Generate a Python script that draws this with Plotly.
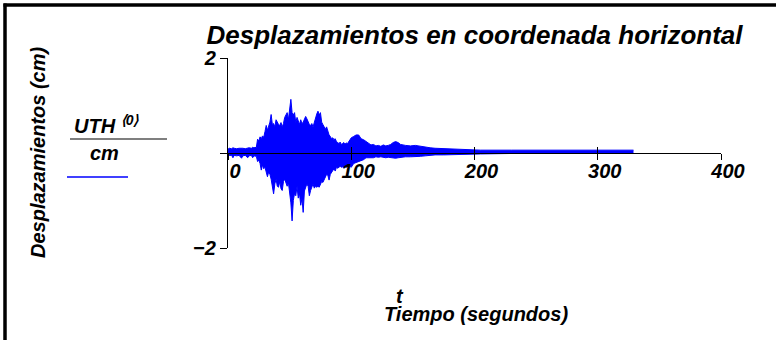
import plotly.graph_objects as go

# ---- data (envelope of the displacement record) ----
t_env = [0, 1, 3, 4, 5, 7, 9, 11, 12, 14, 16, 17, 19, 20, 21, 23,
         24, 25, 26, 27, 28, 29, 30, 31, 32, 33, 34, 35, 36, 37, 38, 39,
         40, 41, 42, 43, 44, 45, 46, 47, 48, 49, 50, 51, 52, 53, 54, 55,
         56, 57, 58, 59, 60, 61, 62, 63, 64, 65, 66, 67, 68, 69, 70, 71,
         72, 73, 74, 75, 76, 77, 78, 79, 80, 81, 82, 83, 84, 85, 86, 87,
         88, 89, 90, 91, 92, 93, 94, 95, 96, 97, 98, 99, 100,
         102, 104, 106, 108, 110, 112, 114, 116, 118, 120, 122, 124, 126,
         128, 130, 132, 134, 136, 138, 140, 144, 148, 152, 156, 160, 164,
         168, 175, 185, 195, 205, 230, 260, 300, 329]
upper = [0.08, 0.10, 0.09, 0.11, 0.10, 0.09, 0.10, 0.11, 0.10, 0.09, 0.10, 0.11, 0.10, 0.12, 0.11, 0.12,
         0.29, 0.25, 0.34, 0.30, 0.36, 0.33, 0.45, 0.58, 0.48, 0.55, 0.65, 0.81, 0.60, 0.62, 0.55, 0.70,
         0.64, 0.60, 0.58, 0.64, 0.55, 0.62, 0.75, 0.80, 0.85, 0.70, 0.95, 1.13, 0.85, 0.80, 0.85, 0.64,
         0.75, 0.68, 0.60, 0.70, 0.62, 0.65, 0.70, 0.77, 0.72, 0.66, 0.60, 0.58, 0.62, 0.55, 0.65, 0.75,
         0.82, 0.88, 0.80, 0.85, 0.65, 0.60, 0.55, 0.50, 0.55, 0.45, 0.38, 0.35, 0.30, 0.32, 0.28, 0.30,
         0.24, 0.22, 0.20, 0.23, 0.18, 0.20, 0.22, 0.19, 0.21, 0.20, 0.25, 0.30, 0.32,
         0.35, 0.38, 0.38, 0.30, 0.28, 0.24, 0.20, 0.17, 0.18, 0.15, 0.16, 0.14, 0.17,
         0.15, 0.16, 0.18, 0.22, 0.24, 0.22, 0.18, 0.16, 0.15, 0.16, 0.14, 0.12, 0.11,
         0.10, 0.09, 0.08, 0.07, 0.06, 0.06, 0.06, 0.06, 0.06]
lower = [-0.04, -0.05, -0.05, -0.10, -0.05, -0.06, -0.05, -0.11, -0.06, -0.05, -0.10, -0.06, -0.05, -0.10, -0.06, -0.07,
         -0.18, -0.15, -0.22, -0.36, -0.25, -0.33, -0.30, -0.42, -0.50, -0.40, -0.45, -0.55, -0.70, -0.86, -0.65, -0.55,
         -0.70, -0.72, -0.60, -0.75, -0.79, -0.60, -0.55, -0.65, -0.70, -0.62, -0.80, -1.05, -1.43, -1.00, -0.85, -0.90,
         -0.70, -0.95, -0.85, -1.10, -0.95, -1.25, -0.80, -0.70, -0.65, -0.70, -0.90, -0.79, -0.70, -0.65, -0.74, -0.70,
         -0.72, -0.70, -0.72, -0.65, -0.60, -0.62, -0.55, -0.50, -0.45, -0.47, -0.57, -0.45, -0.40, -0.36, -0.33, -0.38,
         -0.30, -0.32, -0.30, -0.28, -0.30, -0.29, -0.32, -0.28, -0.30, -0.29, -0.27, -0.28, -0.30,
         -0.22, -0.20, -0.18, -0.15, -0.14, -0.10, -0.10, -0.09, -0.10, -0.08, -0.09, -0.08, -0.09,
         -0.10, -0.09, -0.10, -0.10, -0.11, -0.10, -0.09, -0.08, -0.08, -0.08, -0.07, -0.06, -0.05,
         -0.04, -0.04, -0.03, -0.03, -0.02, -0.01, -0.01, -0.01, -0.01]

x_ticks = [0, 100, 200, 300, 400]
x_tick_labels = ["0", "100", "200", "300", "400"]
y_ticks = [-2, 2]
y_tick_labels = ["\u22122", "2"]
y_zero_tick = [0]

title = "Desplazamientos en coordenada horizontal"
y_title = "Desplazamientos (cm)"
x_title_sym = "t"
x_title = "Tiempo (segundos)"
legend_num = "UTH <sup>\u27e80\u27e9</sup>"
legend_den = "cm"

# ---- layout geometry (pixels) ----
W, H = 776, 340
L, R, T, B = 228, 55, 58, 92
PW, PH = W - L - R, H - T - B
BLUE = "#0000ff"
FONT = "Liberation Sans"


def px(x):
    return (x - L) / PW


def py(y):
    return (H - B - y) / PH


fig = go.Figure()
fig.add_trace(go.Scatter(x=t_env, y=lower, mode="lines",
                         line=dict(color=BLUE, width=1), showlegend=False,
                         hoverinfo="skip"))
fig.add_trace(go.Scatter(x=t_env, y=upper, mode="lines", fill="tonexty",
                         fillcolor=BLUE, line=dict(color=BLUE, width=1),
                         showlegend=False, hoverinfo="skip"))
# dummy traces to activate overlaid axes that carry the crossing ticks
fig.add_trace(go.Scatter(x=[None], y=[None], xaxis="x2", yaxis="y2",
                         showlegend=False, hoverinfo="skip"))
fig.add_trace(go.Scatter(x=[None], y=[None], xaxis="x3", yaxis="y3",
                         showlegend=False, hoverinfo="skip"))

tickfont = dict(family=FONT, size=20, color="black", weight="bold", style="italic")
tickstyle = dict(tickwidth=1.2, tickcolor="black", showgrid=False, zeroline=False)

fig.update_layout(
    width=W, height=H,
    margin=dict(l=L, r=R, t=T, b=B, pad=0),
    paper_bgcolor="white", plot_bgcolor="white",
    xaxis=dict(range=[0, 400], anchor="free", position=0.5,
               showline=True, linecolor="black", linewidth=1.2,
               tickmode="array", tickvals=x_ticks, ticktext=x_tick_labels,
               ticks="", tickfont=tickfont, ticklabelshift=7,
               ticklabelstandoff=0,
               showgrid=False, zeroline=False, automargin=False),
    xaxis2=dict(range=[0, 400], overlaying="x", anchor="free", position=0.5,
                showline=False, tickmode="array", tickvals=x_ticks,
                ticks="inside", ticklen=6, showticklabels=False, **tickstyle),
    xaxis3=dict(range=[0, 400], overlaying="x", anchor="free", position=0.5,
                showline=False, tickmode="array", tickvals=x_ticks,
                ticks="outside", ticklen=6, showticklabels=False, **tickstyle),
    yaxis=dict(range=[-2, 2], showline=True, linecolor="black", linewidth=1.2,
               tickmode="array", tickvals=y_ticks, ticktext=y_tick_labels,
               ticks="outside", ticklen=7, tickwidth=1.2, tickcolor="black",
               tickfont=tickfont, ticklabelstandoff=0,
               showgrid=False, zeroline=False, automargin=False),
    yaxis2=dict(range=[-2, 2], overlaying="y", anchor="x", side="left",
                showline=False, tickmode="array", tickvals=y_ticks,
                ticks="inside", ticklen=7, showticklabels=False, **tickstyle),
    yaxis3=dict(range=[-2, 2], overlaying="y", anchor="x", side="left",
                showline=False, tickmode="array", tickvals=y_zero_tick,
                ticks="outside", ticklen=7, showticklabels=False, **tickstyle),
    title=dict(text=title, x=0.5, xref="paper", xanchor="center",
               y=1 - 35 / H, yref="container", yanchor="middle",
               font=dict(family=FONT, size=26, color="black",
                         weight="bold", style="italic")),
)

labfont = dict(family=FONT, size=20, color="black", weight="bold", style="italic")
ann = [
    dict(text=y_title, x=px(38), y=py(152), textangle=-90, font=labfont),
    dict(text=x_title_sym, x=px(400), y=py(296), font=labfont),
    dict(text=x_title, x=px(476), y=py(314), font=labfont),
    dict(text=legend_num, x=px(106), y=py(124), font=labfont),
    dict(text=legend_den, x=px(104), y=py(153), font=labfont),
]
for a in ann:
    a.update(xref="paper", yref="paper", showarrow=False,
             xanchor="center", yanchor="middle")
fig.update_layout(annotations=ann)

shapes = [
    # fraction bar of the legend label
    dict(type="line", x0=px(70), x1=px(167), y0=py(139), y1=py(139),
         line=dict(color="black", width=1.2)),
    # legend swatch
    dict(type="line", x0=px(67), x1=px(128), y0=py(177), y1=py(177),
         line=dict(color=BLUE, width=1.5)),
    # outer frame (top and left edges)
    dict(type="line", x0=px(3.5), x1=px(776), y0=py(5), y1=py(5),
         line=dict(color="black", width=3.5)),
    dict(type="line", x0=px(5), x1=px(5), y0=py(3.5), y1=py(340),
         line=dict(color="black", width=3.5)),
]
for s in shapes:
    s.update(xref="paper", yref="paper", layer="above")
fig.update_layout(shapes=shapes)

fig.write_html("out.html", config={"displayModeBar": False},
               post_script="document.body.style.margin='0';")
